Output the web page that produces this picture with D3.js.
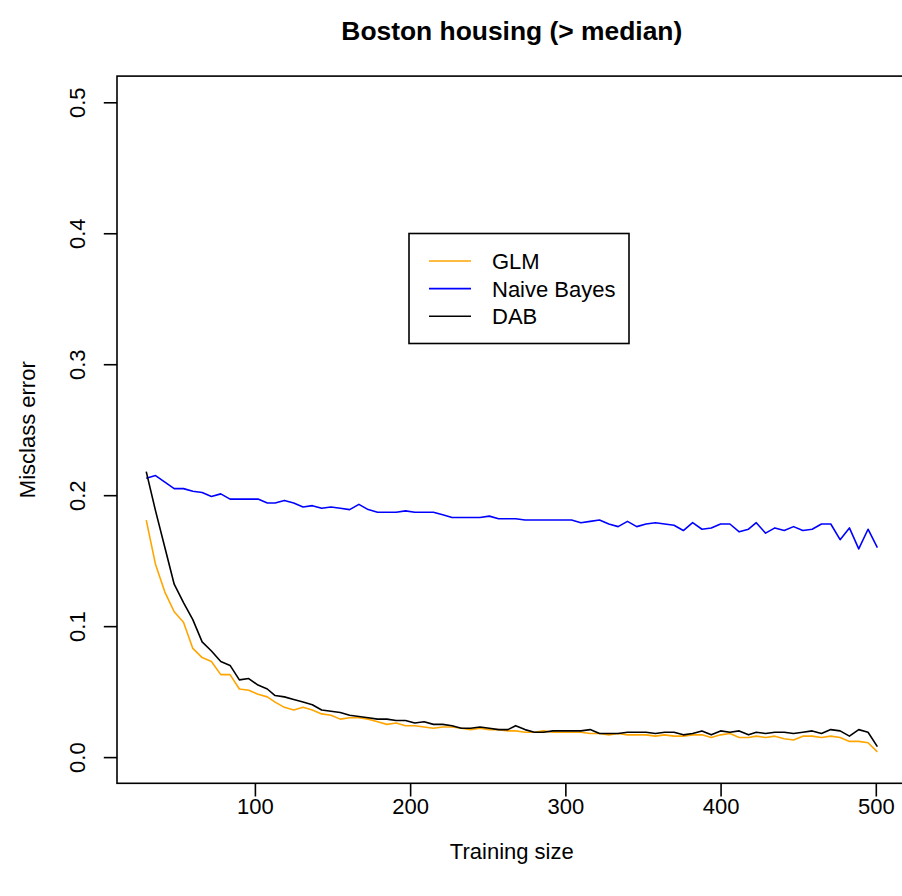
<!DOCTYPE html>
<html>
<head>
<meta charset="utf-8">
<script src="https://cdn.jsdelivr.net/npm/d3@7"></script>
<style>
  body { margin: 0; background: #fff; }
  svg { display: block; font-family: "Liberation Sans", Arial, sans-serif; }
  .tick text { font-size: 22px; fill: #000; }
</style>
</head>
<body>
<div id="chart"></div>
<script>
// --- Data: training sizes (x) ---
const sizes = [30, 36, 42, 48, 54, 60, 66, 72, 78, 84, 90, 96, 102, 108, 113, 119, 125, 131, 137, 143,
  149, 155, 161, 167, 173, 179, 185, 191, 197, 203, 209, 215, 221, 227, 233, 239, 245, 251, 257, 263,
  268, 274, 280, 286, 292, 298, 304, 310, 316, 322, 328, 334, 340, 346, 352, 358, 364, 370, 376, 382,
  388, 394, 400, 406, 412, 418, 423, 429, 435, 441, 447, 453, 459, 465, 471, 477, 483, 489, 495, 501];

// --- Data: misclassification error per method ---
const glm = [0.181, 0.147, 0.126, 0.111, 0.103, 0.083, 0.076, 0.073, 0.063, 0.063,
  0.052, 0.051, 0.048, 0.046, 0.042, 0.038, 0.036, 0.038, 0.036, 0.033,
  0.032, 0.029, 0.030, 0.030, 0.029, 0.027, 0.025, 0.026, 0.024, 0.024,
  0.023, 0.022, 0.023, 0.023, 0.022, 0.021, 0.022, 0.021, 0.021, 0.020,
  0.020, 0.019, 0.019, 0.020, 0.019, 0.019, 0.019, 0.019, 0.018, 0.018,
  0.017, 0.018, 0.017, 0.017, 0.017, 0.016, 0.017, 0.016, 0.016, 0.017,
  0.017, 0.015, 0.017, 0.018, 0.015, 0.015, 0.016, 0.015, 0.016, 0.014,
  0.013, 0.016, 0.016, 0.015, 0.016, 0.015, 0.012, 0.012, 0.011, 0.004];
const naiveBayes = [0.213, 0.215, 0.210, 0.205, 0.205, 0.203, 0.202, 0.199, 0.201, 0.197,
  0.197, 0.197, 0.197, 0.194, 0.194, 0.196, 0.194, 0.191, 0.192, 0.190,
  0.191, 0.190, 0.189, 0.193, 0.189, 0.187, 0.187, 0.187, 0.188, 0.187,
  0.187, 0.187, 0.185, 0.183, 0.183, 0.183, 0.183, 0.184, 0.182, 0.182,
  0.182, 0.181, 0.181, 0.181, 0.181, 0.181, 0.181, 0.179, 0.180, 0.181,
  0.178, 0.176, 0.180, 0.176, 0.178, 0.179, 0.178, 0.177, 0.173, 0.179,
  0.174, 0.175, 0.178, 0.178, 0.172, 0.174, 0.179, 0.171, 0.175, 0.173,
  0.176, 0.173, 0.174, 0.178, 0.178, 0.166, 0.175, 0.159, 0.174, 0.160];
const dab = [0.218, 0.188, 0.160, 0.132, 0.118, 0.105, 0.088, 0.081, 0.073, 0.070,
  0.059, 0.060, 0.055, 0.052, 0.047, 0.046, 0.044, 0.042, 0.040, 0.036,
  0.035, 0.034, 0.032, 0.031, 0.030, 0.029, 0.029, 0.028, 0.028, 0.026,
  0.027, 0.025, 0.025, 0.024, 0.022, 0.022, 0.023, 0.022, 0.021, 0.021,
  0.024, 0.021, 0.019, 0.019, 0.020, 0.020, 0.020, 0.020, 0.021, 0.018,
  0.018, 0.018, 0.019, 0.019, 0.019, 0.018, 0.019, 0.019, 0.017, 0.018,
  0.020, 0.017, 0.020, 0.019, 0.020, 0.017, 0.019, 0.018, 0.019, 0.019,
  0.018, 0.019, 0.020, 0.018, 0.021, 0.020, 0.016, 0.021, 0.019, 0.008];

// --- Labels / ticks ---
const seriesNames = ['GLM', 'Naive Bayes', 'DAB'];
const seriesColors = ['orange', 'blue', 'black'];
const xTicks = [100, 200, 300, 400, 500];
const yTicks = [0, 0.1, 0.2, 0.3, 0.4, 0.5];
const yLimits = [0, 0.5];

(function(){
  const width = 902, height = 896;
  const fs = 22;               // base font size (R cex = 1)
  const lw = 1.6;              // R lwd = 1 at this resolution

  // plot region (right edge falls slightly past the image, as in the original)
  const left = 117, top = 76.1, right = 906.6, bottom = 783.3;

  const svg = d3.select('#chart').append('svg')
    .attr('width', width).attr('height', height);

  // R style axes: data range padded by 4% on each side
  const xr = d3.extent(sizes);
  const xpad = (xr[1] - xr[0]) * 0.04;
  const x = d3.scaleLinear().domain([xr[0] - xpad, xr[1] + xpad]).range([left, right]);
  const ypad = (yLimits[1] - yLimits[0]) * 0.04;
  const y = d3.scaleLinear().domain([yLimits[0] - ypad, yLimits[1] + ypad]).range([bottom, top]);

  // x axis
  const gx = svg.append('g')
    .attr('transform', `translate(0,${bottom})`)
    .call(d3.axisBottom(x).tickValues(xTicks).tickSize(13.2).tickPadding(2).tickFormat(d3.format('d')));
  gx.select('.domain').remove();
  gx.selectAll('.tick line').attr('stroke', '#000').attr('stroke-width', lw);

  // y axis, labels rotated (R's las = 0)
  const gy = svg.append('g')
    .attr('transform', `translate(${left},0)`)
    .call(d3.axisLeft(y).tickValues(yTicks).tickSize(13.2).tickFormat(d3.format('.1f')));
  gy.select('.domain').remove();
  gy.selectAll('.tick line').attr('stroke', '#000').attr('stroke-width', lw);
  gy.selectAll('.tick text')
    .attr('x', null).attr('dy', null)
    .attr('text-anchor', 'middle')
    .attr('transform', 'translate(-32,0) rotate(-90)');

  // plot box
  svg.append('rect')
    .attr('x', left).attr('y', top)
    .attr('width', right - left).attr('height', bottom - top)
    .attr('fill', 'none').attr('stroke', '#000').attr('stroke-width', lw);

  // one line per method
  const series = [glm, naiveBayes, dab];
  const line = d3.line().x((d, i) => x(sizes[i])).y(d => y(d));
  series.forEach((vals, k) => {
    svg.append('path')
      .datum(vals)
      .attr('d', line)
      .attr('fill', 'none')
      .attr('stroke', seriesColors[k])
      .attr('stroke-width', lw)
      .attr('stroke-linejoin', 'round');
  });

  // titles
  const cx = (left + right) / 2;
  svg.append('text')
    .attr('x', cx).attr('y', 40)
    .attr('text-anchor', 'middle')
    .attr('font-size', fs * 1.2).attr('font-weight', 'bold')
    .text('Boston housing (> median)');
  svg.append('text')
    .attr('x', cx).attr('y', 859)
    .attr('text-anchor', 'middle')
    .attr('font-size', fs)
    .text('Training size');
  svg.append('text')
    .attr('transform', `translate(35,${(top + bottom) / 2}) rotate(-90)`)
    .attr('text-anchor', 'middle')
    .attr('font-size', fs)
    .text('Misclass error');

  // legend
  const lg = svg.append('g');
  lg.append('rect')
    .attr('x', 409).attr('y', 233.5).attr('width', 220).attr('height', 110)
    .attr('fill', '#fff').attr('stroke', '#000').attr('stroke-width', lw);
  seriesNames.forEach((name, k) => {
    const ly = 261 + k * 27.6;
    lg.append('line')
      .attr('x1', 429).attr('x2', 471).attr('y1', ly).attr('y2', ly)
      .attr('stroke', seriesColors[k]).attr('stroke-width', lw);
    lg.append('text')
      .attr('x', 492).attr('y', ly).attr('dy', '0.36em')
      .attr('font-size', fs)
      .text(name);
  });
})();
</script>
</body>
</html>
